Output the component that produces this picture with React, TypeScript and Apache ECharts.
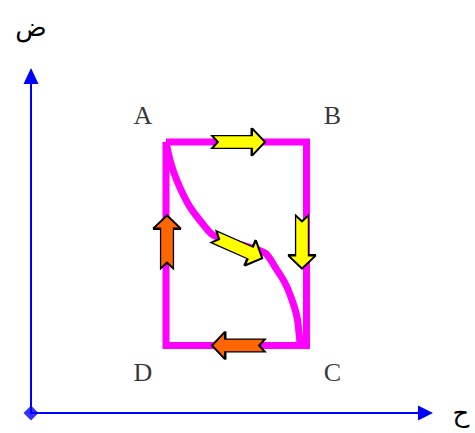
import { useEffect, useRef } from 'react';
import * as echarts from 'echarts';

// Axis titles (Arabic): pressure (ض) and volume (ح)
const xAxisName = 'ح';
const yAxisName = 'ض';

// Axis ranges (arbitrary units)
const xMax = 39.45;
const yMax = 33.7;

// Cycle A -> B -> C -> D -> A (rectangle)
const cycleX = [13.5, 27.55, 27.55, 13.5, 13.5];
const cycleY = [27.1, 27.1, 6.75, 6.75, 27.1];

// Curved process A -> C
const curveX = [13.5, 13.6, 13.9, 14.3, 15.0, 15.9, 17.1, 18.2, 20.8, 23.4, 24.4, 25.4, 26.1, 26.6, 26.8, 26.9];
const curveY = [27.1, 26.6, 25.3, 24.0, 22.3, 20.6, 19.0, 17.8, 16.9, 16.0, 14.6, 13.0, 11.3, 9.6, 8.0, 7.0];

// Direction arrows along the processes
const arrowX = [20.75, 27.1, 20.75, 13.6, 20.7];
const arrowY = [27.1, 17.1, 6.75, 17.1, 16.55];
const arrowDirDeg = [0, -90, 180, 90, -24];
const arrowKind = ['y', 'y', 'o', 'o', 'y'];

// Corner labels
const cornerNames = ['A', 'B', 'C', 'D'];
const cornerX = [11.2, 30.15, 30.15, 11.2];
const cornerY = [29.8, 29.8, 4.1, 4.1];

const ARROW_PATH = 'path://M0,27 L75,27 L75,0 L100,50 L75,100 L75,73 L0,73 L11,50 Z';
const SERIF = '"Liberation Serif", "Times New Roman", "DejaVu Sans", serif';

export default function App() {
  const ref = useRef<HTMLDivElement>(null);

  useEffect(() => {
    if (!ref.current) return;
    const chart = echarts.init(ref.current, null, { renderer: 'svg' });

    const option = {
      animation: false,
      grid: { left: 31, top: 76, width: 394.5, height: 337 },
      xAxis: {
        type: 'value',
        min: 0,
        max: xMax,
        name: xAxisName,
        nameLocation: 'end',
        nameGap: 27,
        nameTextStyle: { fontSize: 26, color: '#000', fontFamily: SERIF, verticalAlign: 'middle' },
        axisLine: {
          show: true,
          onZero: false,
          symbol: ['none', 'triangle'],
          symbolSize: [15, 15],
          lineStyle: { color: '#0000ff', width: 2 },
        },
        axisTick: { show: false },
        axisLabel: { show: false },
        splitLine: { show: false },
      },
      yAxis: {
        type: 'value',
        min: 0,
        max: yMax,
        name: yAxisName,
        nameLocation: 'end',
        nameGap: 36,
        nameTextStyle: { fontSize: 26, color: '#000', fontFamily: SERIF },
        axisLine: {
          show: true,
          onZero: false,
          symbol: ['none', 'triangle'],
          symbolSize: [15, 16],
          lineStyle: { color: '#0000ff', width: 2 },
        },
        axisTick: { show: false },
        axisLabel: { show: false },
        splitLine: { show: false },
      },
      series: [
        {
          type: 'line',
          data: cycleX.map((x, i) => [x, cycleY[i]]),
          showSymbol: false,
          silent: true,
          lineStyle: { color: '#ff00ff', width: 7, join: 'miter', cap: 'butt' },
          z: 2,
        },
        {
          type: 'line',
          data: curveX.map((x, i) => [x, curveY[i]]),
          showSymbol: false,
          smooth: 0.3,
          silent: true,
          lineStyle: { color: '#ff00ff', width: 7, cap: 'butt' },
          z: 2,
        },
        {
          type: 'scatter',
          silent: true,
          z: 5,
          data: arrowX.map((x, i) => ({
            value: [x, arrowY[i]],
            symbolRotate: arrowDirDeg[i],
            itemStyle: { color: arrowKind[i] === 'y' ? '#ffff00' : '#ff6600' },
          })),
          symbol: ARROW_PATH,
          symbolSize: [53, 28],
          itemStyle: { borderColor: '#000', borderWidth: 1.8, opacity: 1 },
        },
        {
          type: 'scatter',
          silent: true,
          z: 6,
          data: [[0, 0]],
          symbol: 'diamond',
          symbolSize: 15,
          itemStyle: { color: '#0000ff' },
        },
        {
          type: 'scatter',
          silent: true,
          z: 6,
          data: cornerNames.map((n, i) => ({ name: n, value: [cornerX[i], cornerY[i]] })),
          symbolSize: 1,
          itemStyle: { color: 'rgba(0,0,0,0)' },
          label: {
            show: true,
            position: 'inside',
            formatter: '{b}',
            fontSize: 26,
            color: '#000',
            fontFamily: SERIF,
          },
        },
      ],
    };

    chart.setOption(option as any);
    return () => chart.dispose();
  }, []);

  return (
    <div
      ref={ref}
      style={{ position: 'fixed', left: 0, top: 0, width: 475, height: 433, background: '#fff' }}
    />
  );
}
